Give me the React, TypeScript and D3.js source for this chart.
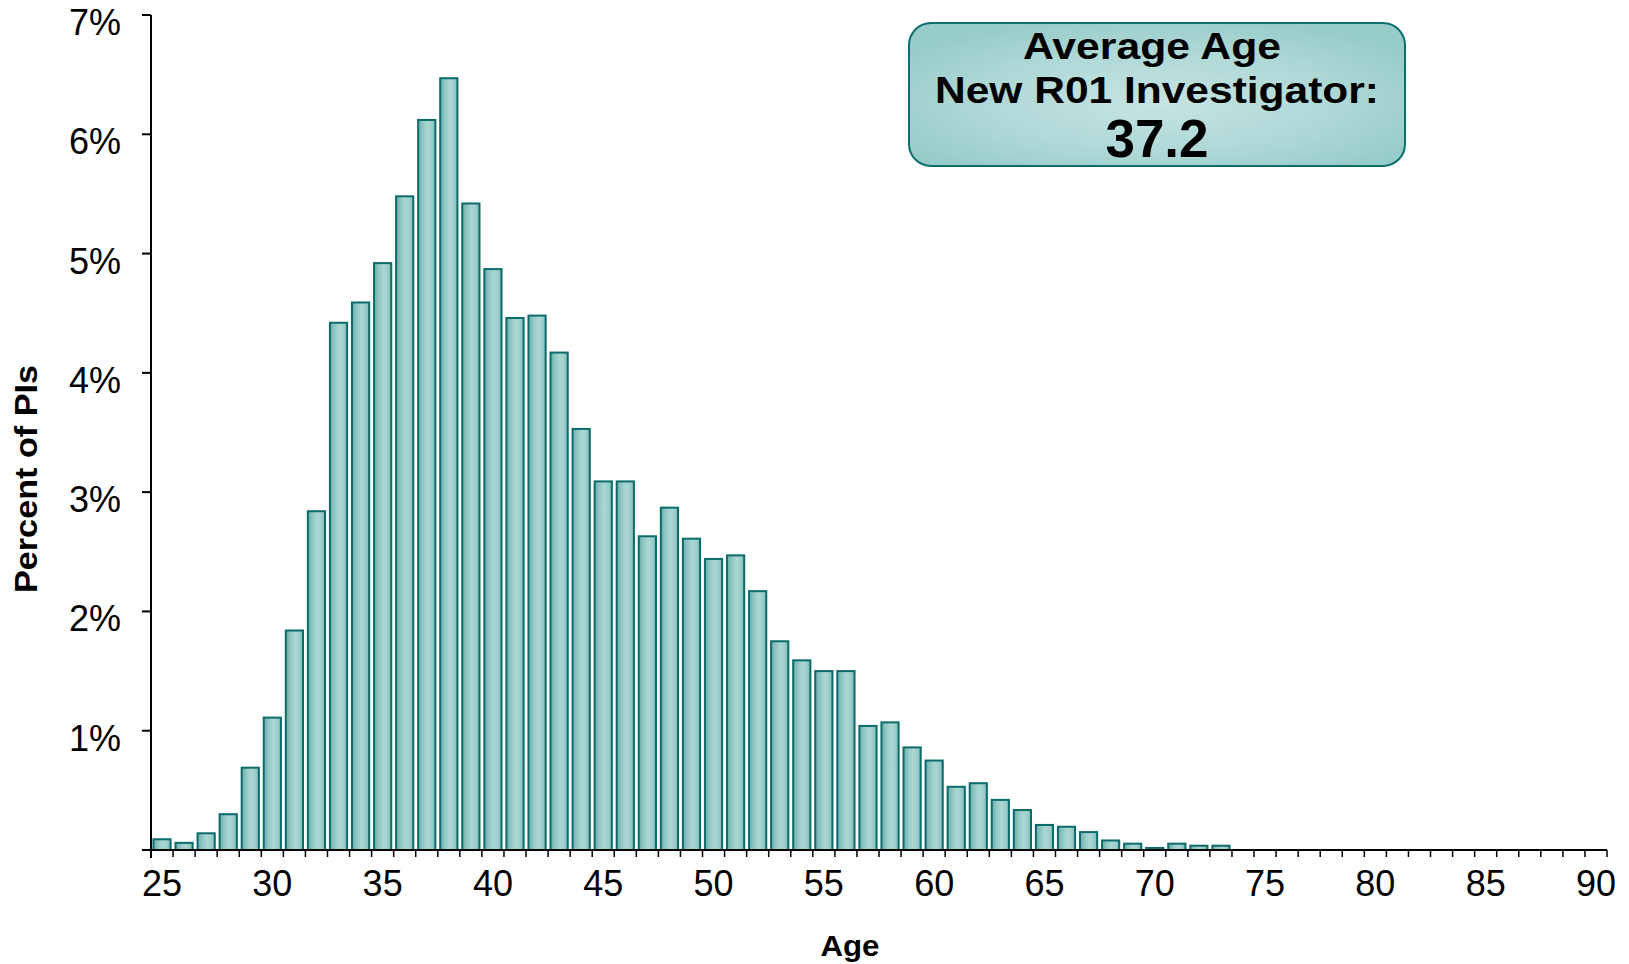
import React from "react";
import * as d3 from "d3";

const ages: number[] = d3.range(25, 91);
const percentValues: number[] = [
  0.09, 0.06, 0.14, 0.3, 0.69, 1.11, 1.84, 2.84, 4.42, 4.59,
  4.92, 5.48, 6.12, 6.47, 5.42, 4.87, 4.46, 4.48, 4.17, 3.53,
  3.09, 3.09, 2.63, 2.87, 2.61, 2.44, 2.47, 2.17, 1.75, 1.59,
  1.5, 1.5, 1.04, 1.07, 0.86, 0.75, 0.53, 0.56, 0.42, 0.335,
  0.21, 0.195, 0.15, 0.08, 0.053, 0.017, 0.053, 0.036, 0.036, 0,
  0, 0, 0, 0, 0, 0, 0, 0, 0, 0,
  0, 0, 0, 0, 0, 0,
];
const yTicks: number[] = [0, 1, 2, 3, 4, 5, 6, 7];
const xLabelAges: number[] = [25, 30, 35, 40, 45, 50, 55, 60, 65, 70, 75, 80, 85, 90];
const boxLines: string[] = ["Average Age", "New R01 Investigator:", "37.2"];

const W = 1629;
const H = 964;
const FONT = "Arial, 'Liberation Sans', Helvetica, sans-serif";

export default function App() {
  const x = d3
    .scaleBand<number>()
    .domain(ages)
    .range([151, 1607])
    .paddingInner(0.22)
    .paddingOuter(0.11);
  const step = x.step();
  const y = d3.scaleLinear().domain([0, 7]).range([850, 15]);
  const x0 = 151;
  const x1 = 1607;
  const base = y(0);

  return (
    <svg
      width={W}
      height={H}
      style={{ position: "absolute", left: 0, top: 0, background: "#fff" }}
      fontFamily={FONT}
    >
      <defs>
        <linearGradient id="barGrad" x1="0" y1="0" x2="1" y2="0">
          <stop offset="0" stopColor="#6cadaa" />
          <stop offset="0.3" stopColor="#93c9c6" />
          <stop offset="0.55" stopColor="#acd6d4" />
          <stop offset="0.8" stopColor="#9ccecb" />
          <stop offset="1" stopColor="#78b6b3" />
        </linearGradient>
        <radialGradient id="boxGrad" cx="0.5" cy="0.55" r="0.6">
          <stop offset="0" stopColor="#c6e4e2" />
          <stop offset="0.6" stopColor="#aed8d6" />
          <stop offset="1" stopColor="#98ccc9" />
        </radialGradient>
      </defs>

      {/* bars */}
      {ages.map((a, i) => {
        const v = percentValues[i];
        if (!v) return null;
        const top = y(v);
        return (
          <rect
            key={a}
            x={x(a)!}
            y={top}
            width={x.bandwidth()}
            height={Math.max(base - top, 0.5)}
            fill="url(#barGrad)"
            stroke="#0c6b6b"
            strokeWidth={2}
          />
        );
      })}

      {/* y axis */}
      <line x1={x0} x2={x0} y1={y(7)} y2={base + 8} stroke="#000" strokeWidth={2} />
      {yTicks.map((t) => (
        <line key={"yt" + t} x1={x0 - 9} x2={x0} y1={y(t)} y2={y(t)} stroke="#000" strokeWidth={2} />
      ))}
      {yTicks
        .filter((t) => t > 0)
        .map((t) => (
          <text
            key={"yl" + t}
            x={121}
            y={y(t) + 20}
            textAnchor="end"
            fontSize={36}
            fill="#000"
          >
            {t + "%"}
          </text>
        ))}

      {/* x axis */}
      <line x1={x0} x2={x1} y1={base} y2={base} stroke="#000" strokeWidth={2} />
      {d3.range(0, ages.length + 1).map((i) => (
        <line
          key={"xt" + i}
          x1={x0 + i * step}
          x2={x0 + i * step}
          y1={base}
          y2={base + 7}
          stroke="#000"
          strokeWidth={1.5}
        />
      ))}
      {xLabelAges.map((a) => (
        <text
          key={"xl" + a}
          x={x(a)! + x.bandwidth() / 2}
          y={base + 46}
          textAnchor="middle"
          fontSize={36}
          fill="#000"
        >
          {a}
        </text>
      ))}

      {/* axis titles */}
      <text
        x={850}
        y={956}
        textAnchor="middle"
        fontSize={30}
        fontWeight="bold"
        textLength={59}
        lengthAdjust="spacingAndGlyphs"
      >
        Age
      </text>
      <text
        transform="translate(37,479) rotate(-90)"
        textAnchor="middle"
        fontSize={32}
        fontWeight="bold"
        textLength={228}
        lengthAdjust="spacingAndGlyphs"
      >
        Percent of PIs
      </text>

      {/* annotation box */}
      <rect
        x={909}
        y={23}
        width={496}
        height={143}
        rx={22}
        ry={22}
        fill="url(#boxGrad)"
        stroke="#0d6e6e"
        strokeWidth={2}
      />
      <text
        x={1152}
        y={59}
        textAnchor="middle"
        fontSize={37}
        fontWeight="bold"
        textLength={258}
        lengthAdjust="spacingAndGlyphs"
      >
        {boxLines[0]}
      </text>
      <text
        x={1157}
        y={103}
        textAnchor="middle"
        fontSize={37}
        fontWeight="bold"
        textLength={444}
        lengthAdjust="spacingAndGlyphs"
      >
        {boxLines[1]}
      </text>
      <text x={1157} y={157} textAnchor="middle" fontSize={53} fontWeight="bold">
        {boxLines[2]}
      </text>
    </svg>
  );
}
